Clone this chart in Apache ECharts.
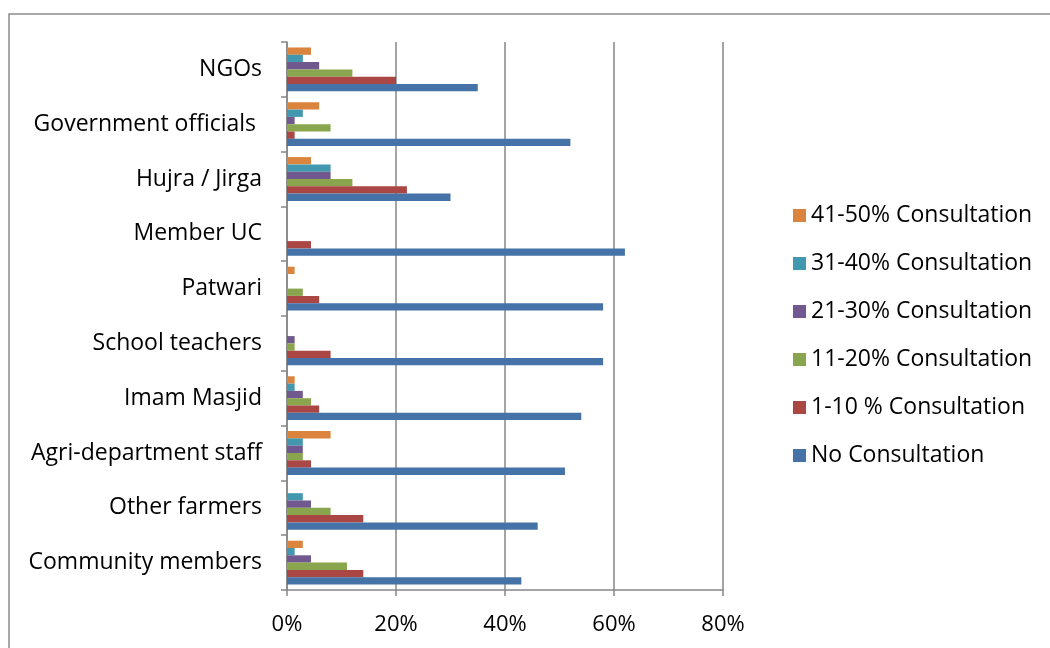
<!DOCTYPE html>
<html>
<head>
<meta charset="utf-8">
<script src="https://cdn.jsdelivr.net/npm/echarts@6/dist/echarts.min.js"></script>
<style>
  html, body { margin: 0; padding: 0; background: #fff; }
  #main { width: 1050px; height: 648px; }
</style>
</head>
<body>
<div id="main"></div>
<script>
// categories, bottom to top as they appear on the chart
const categories = ['Community members', 'Other farmers', 'Agri-department staff', 'Imam Masjid',
  'School teachers', 'Patwari', 'Member UC', 'Hujra / Jirga', 'Government officials ', 'NGOs'];

// values in percent
const noConsult = [43, 46, 51, 54, 58, 58, 62, 30, 52, 35];
const consult1to10 = [14, 14, 4.4, 5.9, 8, 5.9, 4.4, 22, 1.4, 20];
const consult11to20 = [11, 8, 2.9, 4.4, 1.4, 2.9, 0, 12, 8, 12];
const consult21to30 = [4.4, 4.4, 2.9, 2.9, 1.4, 0, 0, 8, 1.4, 5.9];
const consult31to40 = [1.4, 2.9, 2.9, 1.4, 0, 0, 0, 8, 2.9, 2.9];
const consult41to50 = [2.9, 0, 8, 1.4, 0, 1.4, 0, 4.4, 5.9, 4.4];

// top bar of each group first (echarts puts the first series on top for horizontal bars)
const seriesNames = ['41-50% Consultation', '31-40% Consultation', '21-30% Consultation',
  '11-20% Consultation', '1-10 % Consultation', 'No Consultation'];
const seriesData = [consult41to50, consult31to40, consult21to30, consult11to20, consult1to10, noConsult];
const colors = ['#db843d', '#4198af', '#71588f', '#89a54e', '#aa4643', '#4572a7'];

const font = '"Open Sans", Lato, sans-serif';
const gridGrey = '#868686';

const myChart = echarts.init(document.getElementById('main'));

const option = {
  animation: false,
  backgroundColor: '#fff',
  graphic: [{
    type: 'rect',
    shape: { x: 9, y: 14, width: 1100, height: 700 },
    style: { fill: 'none', stroke: '#8c8c8c', lineWidth: 1.5 },
    silent: true
  }],
  grid: { left: 287, top: 42, right: 327, bottom: 58 },
  legend: {
    orient: 'vertical',
    left: 788,
    top: 199,
    itemWidth: 13,
    itemHeight: 13,
    itemGap: 25,
    icon: 'rect',
    data: seriesNames,
    textStyle: { fontFamily: font, fontSize: 23, color: '#000' }
  },
  xAxis: {
    type: 'value',
    min: 0,
    max: 80,
    interval: 20,
    axisLine: { show: true, lineStyle: { color: gridGrey, width: 1.5 } },
    axisTick: { show: true, length: 6, lineStyle: { color: gridGrey, width: 1.5 } },
    splitLine: { show: true, lineStyle: { color: gridGrey, width: 1.5 } },
    axisLabel: { formatter: '{value}%', margin: 24, fontFamily: font, fontSize: 22, color: '#000' }
  },
  yAxis: {
    type: 'category',
    data: categories,
    axisLine: { show: true, lineStyle: { color: gridGrey, width: 1.5 } },
    axisTick: { show: true, length: 6, lineStyle: { color: gridGrey, width: 1.5 } },
    axisLabel: { margin: 25, fontFamily: font, fontSize: 23, color: '#000' }
  },
  series: seriesNames.map((name, i) => ({
    name: name,
    type: 'bar',
    data: seriesData[i],
    barGap: '0%',
    barCategoryGap: '20%',
    itemStyle: { color: colors[i] }
  }))
};
myChart.setOption(option);
</script>
</body>
</html>
